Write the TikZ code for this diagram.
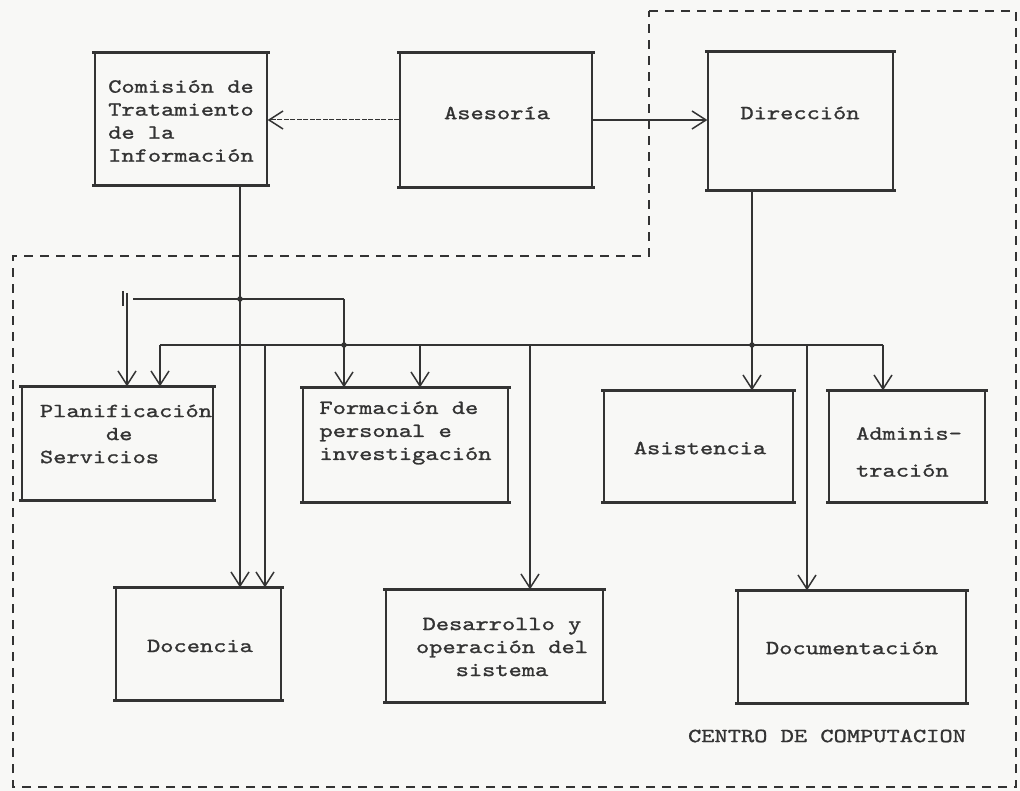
\documentclass[tikz,border=0pt]{standalone}
\usepackage{fontspec}
\usetikzlibrary{arrows.meta}
\newfontfamily\tw[FakeStretch=1.26,FakeBold=1.2]{lmmono10-regular.otf}
\definecolor{ink}{HTML}{333333}
\definecolor{paper}{HTML}{F8F8F6}
\begin{document}
\begin{tikzpicture}[x=1pt,y=-1pt,
  box/.style={draw=ink, line width=1.3pt, rectangle, inner sep=0pt},
  txt/.style={text=ink, inner sep=0pt, font=\tw\fontsize{20}{23}\selectfont},
  conn/.style={draw=ink, line width=1.2pt},
  arr/.style={conn, -{Straight Barb[length=14pt,width=18pt,line width=1.5pt]}},
  thinarr/.style={arr, line width=1pt, dash pattern=on 5pt off 1.5pt},
  dashbord/.style={draw=ink, line width=1.5pt, dash pattern=on 9pt off 7pt},
  jdot/.style={circle, fill=ink, inner sep=0pt, minimum size=5.5pt},
  edge/.style={draw=ink, line width=2.4pt}]
\fill[paper] (0,0) rectangle (1020,791);
\useasboundingbox (0,0) rectangle (1020,791);

% outer dashed region
\draw[dashbord] (649,11) -- (1016,11) -- (1016,787) -- (13,787) -- (13,256) -- (649,256) -- cycle;

% boxes
\node[box, minimum width=172pt, minimum height=132pt] (com) at (181,119) {};
\node[box, minimum width=192pt, minimum height=134pt] (ases) at (496,120) {};
\node[box, minimum width=185pt, minimum height=138pt] (dir) at (800.5,121) {};
\node[box, minimum width=191pt, minimum height=113pt] (plan) at (117.5,443.5) {};
\node[box, minimum width=205pt, minimum height=114pt] (form) at (405.5,445) {};
\node[box, minimum width=189pt, minimum height=111pt] (asis) at (698.5,446.5) {};
\node[box, minimum width=156pt, minimum height=111pt] (admin) at (907,446.5) {};
\node[box, minimum width=165pt, minimum height=112pt] (doc) at (198.5,644) {};
\node[box, minimum width=217pt, minimum height=112pt] (des) at (494.5,646) {};
\node[box, minimum width=228pt, minimum height=112pt] (docu) at (852,647) {};
\foreach \n in {com,ases,dir,plan,form,asis,admin,doc,des,docu}{
  \draw[edge] ([xshift=-2pt]\n.north west) -- ([xshift=2pt]\n.north east);
  \draw[edge] ([xshift=-2pt]\n.south west) -- ([xshift=2pt]\n.south east);
}

% texts
\node[txt, align=left] (comT) at (181,121) {Comisión de\\Tratamiento\\de la\\Información};
\node[txt] (asesT) at (497,113) {Asesoría};
\node[txt] (dirT) at (800,113) {Dirección};
\node[txt, align=left] (planT) at (126,434) {Planificación\\\hspace*{66pt}de\\Servicios};
\node[txt, align=left] (formT) at (405.5,433) {Formación de\\personal e\\investigación};
\node[txt] (asisT) at (700,448) {Asistencia};
\node[txt, align=left] (adminT) at (909,452) {Adminis-\\[14pt]tración};
\node[txt] (docT) at (200,646) {Docencia};
\node[txt, align=center] (desT) at (502,647) {Desarrollo y\\operación del\\sistema};
\node[txt] (docuT) at (852,648) {Documentación};
\node[txt] (centro) at (827,736) {CENTRO DE COMPUTACION};

% junction coordinates
\coordinate (ja) at (240,299);
\coordinate (h1l) at (127,299);
\coordinate (h1r) at (344,299);
\coordinate (jb) at (344,345);
\coordinate (h2l) at (160,345);
\coordinate (h2r) at (883,345);
\coordinate (jc) at (752,345);
\coordinate (d1) at (265,345);
\coordinate (d2) at (420,345);
\coordinate (d3) at (530,345);
\coordinate (d4) at (807,345);

% top connectors
\draw[thinarr] (ases.west) -- (ases.west -| com.east);
\draw[arr] (ases.east) -- (ases.east -| dir.west);

% Comision branch
\draw[arr] (com.south -| ja) -- (doc.north -| ja);
\draw[conn] ([xshift=6pt]h1l) -- (h1r);
\draw[arr] ([yshift=6pt]h1l) -- (plan.north -| h1l);
\draw[conn] ([xshift=-4pt,yshift=8pt]h1l) -- ([xshift=-4pt,yshift=-7pt]h1l);
\draw[arr] (h1r) -- (form.north -| h1r);

% Direccion branch
\draw[conn] (h2l) -- (h2r);
\draw[arr] (dir.south -| jc) -- (asis.north -| jc);
\draw[arr] (h2l) -- (plan.north -| h2l);
\draw[arr] (d1) -- (doc.north -| d1);
\draw[arr] (d2) -- (form.north -| d2);
\draw[arr] (d3) -- (des.north -| d3);
\draw[arr] (d4) -- (docu.north -| d4);
\draw[arr] (h2r) -- (admin.north -| h2r);

\node[jdot] (dA) at (ja) {};
\node[jdot] (dB) at (jb) {};
\node[jdot] (dC) at (jc) {};
\end{tikzpicture}
\end{document}
